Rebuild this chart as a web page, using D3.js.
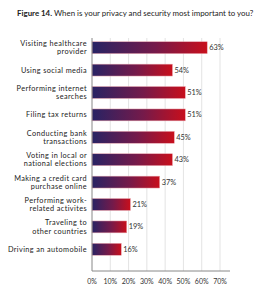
<!DOCTYPE html>
<html>
<head>
<meta charset="utf-8">
<script src="https://cdnjs.cloudflare.com/ajax/libs/d3/7.8.5/d3.min.js"></script>
<style>
  body { margin: 0; background: #fff; }
  text { font-family: Lato, "Open Sans", sans-serif; }
</style>
</head>
<body>
<div id="chart"></div>
<script>
// categories (line breaks as in the figure)
const categories = [
  ["Visiting healthcare", "provider"],
  ["Using social media"],
  ["Performing internet", "searches"],
  ["Filing tax returns"],
  ["Conducting bank", "transactions"],
  ["Voting in local or", "national elections"],
  ["Making a credit card", "purchase online"],
  ["Performing work-", "related activites"],
  ["Traveling to", "other countries"],
  ["Driving an automobile"]
];
// bar lengths as drawn in the figure (social media bar is drawn short)
const barValues = [63, 44, 51, 51, 45, 44, 37, 21, 19, 16];
const valueLabels = ["63%", "54%", "51%", "51%", "45%", "43%", "37%", "21%", "19%", "16%"];
const xTicks = [0, 10, 20, 30, 40, 50, 60, 70];

const W = 276, H = 300;
const svg = d3.select("#chart").append("svg")
  .attr("width", W).attr("height", H);

const grad = svg.append("defs").append("linearGradient")
  .attr("id", "barGrad").attr("x1", "0").attr("x2", "1").attr("y1", "0").attr("y2", "0");
grad.append("stop").attr("offset", "0%").attr("stop-color", "#282364");
grad.append("stop").attr("offset", "55%").attr("stop-color", "#751a4a");
grad.append("stop").attr("offset", "100%").attr("stop-color", "#c80f1c");

// title
const title = svg.append("text").attr("x", 17).attr("y", 16)
  .attr("font-size", 7.9).attr("fill", "#222");
title.append("tspan").attr("font-weight", "bold").text("Figure 14. ");
title.append("tspan").text("When is your privacy and security most important to you?");

const x = d3.scaleLinear().domain([0, 70]).range([92, 220]);
const y = d3.scaleBand().domain(d3.range(categories.length))
  .range([36.5, 260.5]).paddingInner(0.47).paddingOuter(0.235);

const plotTop = 38, plotBottom = 271;

// gridlines
svg.append("g").selectAll("line").data(xTicks.slice(1)).join("line")
  .attr("x1", d => x(d)).attr("x2", d => x(d))
  .attr("y1", plotTop).attr("y2", plotBottom)
  .attr("stroke", "#dcdcdc").attr("stroke-width", 0.8);

// bars
svg.append("g").selectAll("rect").data(barValues).join("rect")
  .attr("x", x(0))
  .attr("y", (d, i) => y(i))
  .attr("width", d => x(d) - x(0))
  .attr("height", y.bandwidth())
  .attr("fill", "url(#barGrad)")
  .attr("stroke", "#e9a3ab").attr("stroke-width", 0.5);

// value labels
svg.append("g").selectAll("text").data(barValues).join("text")
  .attr("x", d => x(d) + 2)
  .attr("y", (d, i) => y(i) + y.bandwidth() / 2)
  .attr("dy", "0.35em")
  .attr("font-size", 7.4).attr("fill", "#333")
  .text((d, i) => valueLabels[i]);

// category labels
const lh = 8.3;
svg.append("g").selectAll("text").data(categories).join("text")
  .attr("text-anchor", "end")
  .attr("font-size", 7.3).attr("letter-spacing", 0.4).attr("fill", "#222")
  .each(function (lines, i) {
    const cy = y(i) + y.bandwidth() / 2;
    const t = d3.select(this);
    lines.forEach((s, k) => {
      t.append("tspan").attr("x", 87)
        .attr("y", cy + (k - (lines.length - 1) / 2) * lh)
        .attr("dy", "0.35em").text(s);
    });
  });

// axes lines
svg.append("line").attr("x1", x(0)).attr("x2", x(0)).attr("y1", plotTop).attr("y2", plotBottom)
  .attr("stroke", "#888").attr("stroke-width", 1);
svg.append("line").attr("x1", x(0)).attr("x2", 230).attr("y1", plotBottom).attr("y2", plotBottom)
  .attr("stroke", "#888").attr("stroke-width", 1);

// x tick labels
svg.append("g").selectAll("text").data(xTicks).join("text")
  .attr("x", d => x(d)).attr("y", 282).attr("dy", "0.35em")
  .attr("text-anchor", "middle").attr("font-size", 7).attr("fill", "#333")
  .text(d => d + "%");
</script>
</body>
</html>
